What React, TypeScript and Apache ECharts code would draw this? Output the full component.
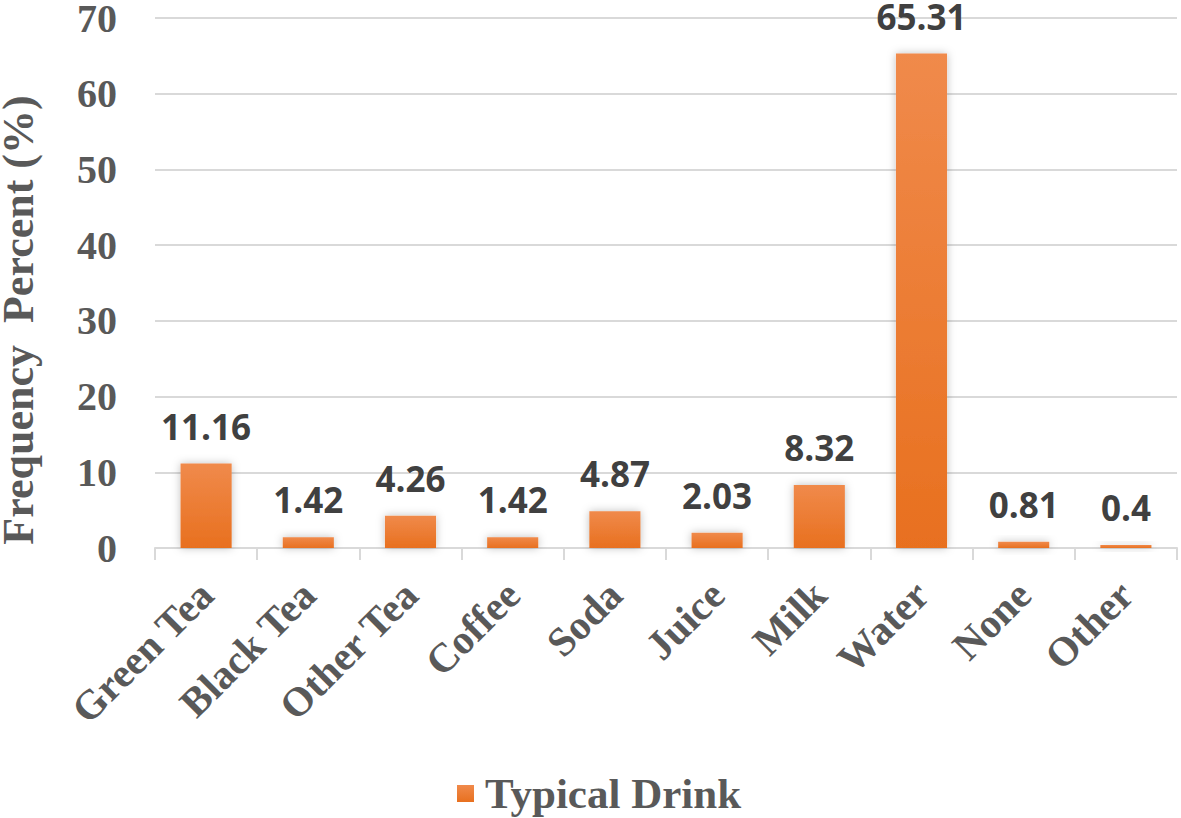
import React, { useEffect, useRef } from "react";
import * as echarts from "echarts";

const categories = ["Green Tea", "Black Tea", "Other Tea", "Coffee", "Soda", "Juice", "Milk", "Water", "None", "Other"];
const values = [11.16, 1.42, 4.26, 1.42, 4.87, 2.03, 8.32, 65.31, 0.81, 0.4];
const seriesName = "Typical Drink";
const yMin = 0;
const yMax = 70;
const yInterval = 10;

const SERIF = '"Liberation Serif", "Times New Roman", serif';

export default function App() {
  const ref = useRef<HTMLDivElement>(null);
  useEffect(() => {
    if (!ref.current) return;
    const chart = echarts.init(ref.current, null, { renderer: "svg" });
    chart.setOption({
      animation: false,
      backgroundColor: "#ffffff",
      grid: { left: 155, right: 4, top: 18, bottom: 270, containLabel: false, outerBoundsMode: "none" },
      legend: {
        bottom: -2,
        left: 452,
        icon: "rect",
        itemWidth: 17,
        itemHeight: 17,
        itemGap: 10,
        textStyle: { fontFamily: SERIF, fontWeight: "bold", fontSize: 43, color: "#595959", padding: [0, 0, 0, 6] },
        data: [seriesName],
      },
      xAxis: {
        type: "category",
        data: categories,
        axisLine: { show: true, lineStyle: { color: "#d9d9d9", width: 2 } },
        axisTick: { show: true, length: 12, lineStyle: { color: "#d9d9d9", width: 2 } },
        axisLabel: {
          rotate: 45,
          margin: 40,
          interval: 0,
          fontFamily: SERIF,
          fontWeight: "bold",
          fontSize: 41,
          color: "#595959",
        },
      },
      yAxis: {
        type: "value",
        min: yMin,
        max: yMax,
        interval: yInterval,
        name: "Frequency  Percent (%)",
        nameLocation: "middle",
        nameRotate: 90,
        nameGap: 115,
        nameTextStyle: {
          fontFamily: SERIF,
          fontWeight: "bold",
          fontSize: 44,
          color: "#595959",
          padding: [0, 74, 0, 0],
        },
        axisLine: { show: false },
        axisTick: { show: false },
        splitLine: { lineStyle: { color: "#d9d9d9", width: 2 } },
        axisLabel: {
          margin: 38,
          fontFamily: SERIF,
          fontWeight: "bold",
          fontSize: 40,
          color: "#595959",
        },
      },
      series: [
        {
          name: seriesName,
          type: "bar",
          data: values,
          barWidth: "50%",
          itemStyle: {
            color: new echarts.graphic.LinearGradient(0, 0, 0, 1, [
              { offset: 0, color: "#f08a4b" },
              { offset: 1, color: "#e8701f" },
            ]),
            shadowColor: "rgba(0,0,0,0.25)",
            shadowBlur: 8,
          },
          label: {
            show: true,
            position: "top",
            distance: 20,
            fontFamily: '"Open Sans", sans-serif',
            fontWeight: "bold",
            fontSize: 35,
            color: "#404040",
          },
        },
      ],
    });
    return () => chart.dispose();
  }, []);
  return <div ref={ref} style={{ position: "absolute", left: 0, top: 0, width: 1181, height: 818 }} />;
}
